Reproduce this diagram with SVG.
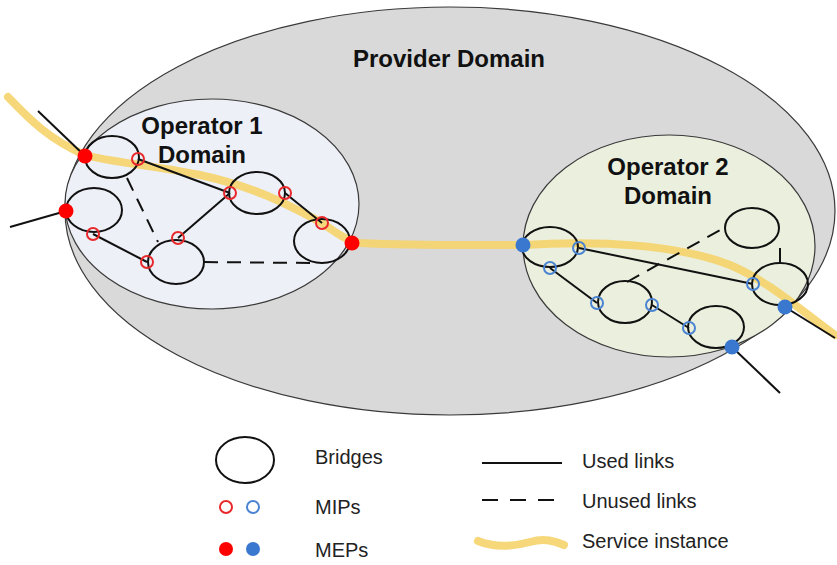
<svg xmlns="http://www.w3.org/2000/svg" width="837" height="565" viewBox="0 0 837 565">
<style>
.dom{stroke:#3a3a3a;stroke-width:1.2}
.br{fill:none;stroke:#111;stroke-width:2}
.ln{stroke:#111;stroke-width:2;fill:none}
.dl{stroke:#111;stroke-width:2;fill:none;stroke-dasharray:14 9}
.svc{fill:none;stroke:#f5d36a;stroke-width:8;stroke-linecap:round;opacity:0.9}
.mipr{fill:none;stroke:#e8282b;stroke-width:2}
.mipb{fill:none;stroke:#4a84d2;stroke-width:2}
.mepr{fill:#ff0000}
.mepb{fill:#3a78d0}
.t{font-family:"Liberation Sans",Arial,sans-serif;fill:#222}
.tb{font-family:"Liberation Sans",Arial,sans-serif;font-weight:bold;fill:#111;font-size:24px;text-anchor:middle}
.lg{font-size:20px}
</style>
<rect width="837" height="565" fill="#ffffff"/>
<g id="provider-domain">
<ellipse cx="450" cy="211" rx="385" ry="204" fill="#d9d9d9" class="dom"/>
<text class="tb" x="449" y="67">Provider Domain</text>
</g>
<g id="operator1-domain">
<ellipse cx="212" cy="204" rx="147" ry="105" fill="#edf0f6" class="dom"/>
<text class="tb" x="202" y="134">Operator 1</text>
<text class="tb" x="202" y="163">Domain</text>
</g>
<g id="operator2-domain">
<ellipse cx="669" cy="246" rx="146" ry="111" fill="#ebefdd" class="dom"/>
<text class="tb" x="668" y="175">Operator 2</text>
<text class="tb" x="668" y="204">Domain</text>
</g>
<g id="service-instance">
<path class="svc" d="M 8,97 C 30,120 50,140 85,155 C 110,162 150,165 200,175 C 250,186 280,200 322,223 C 335,232 345,240 360,243 C 420,246 480,245 523,245 C 600,240 680,245 730,265 C 770,282 800,310 835,335"/>
</g>
<g id="connectors">
<line class="ln" x1="38" y1="111" x2="85" y2="156"/>
<line class="ln" x1="10" y1="227" x2="66" y2="211"/>
<line class="ln" x1="138" y1="159" x2="230" y2="193"/>
<line class="ln" x1="285" y1="193" x2="322" y2="223"/>
<line class="ln" x1="93" y1="234" x2="147" y2="262"/>
<line class="ln" x1="178" y1="238" x2="230" y2="193"/>
<line class="dl" x1="127" y1="178" x2="158" y2="242"/>
<line class="dl" x1="204" y1="262" x2="312" y2="263"/>
<line class="ln" x1="579" y1="248" x2="753" y2="284"/>
<line class="ln" x1="550" y1="268" x2="597" y2="303"/>
<line class="ln" x1="652" y1="305" x2="689" y2="328"/>
<line class="ln" x1="785" y1="307" x2="835" y2="338"/>
<line class="ln" x1="732" y1="347" x2="780" y2="393"/>
<line class="dl" x1="627" y1="282" x2="722" y2="229"/>
<line class="dl" x1="780" y1="248" x2="780" y2="263"/>
</g>
<g id="bridges-op1">
<ellipse class="br" cx="112" cy="157" rx="27" ry="21"/>
<ellipse class="br" cx="94" cy="210" rx="28" ry="22"/>
<ellipse class="br" cx="176" cy="262" rx="28" ry="22"/>
<ellipse class="br" cx="257" cy="193" rx="28" ry="21"/>
<ellipse class="br" cx="322" cy="241" rx="28" ry="22"/>
</g>
<g id="bridges-op2">
<ellipse class="br" cx="550" cy="247" rx="28" ry="20"/>
<ellipse class="br" cx="625" cy="302" rx="27" ry="21"/>
<ellipse class="br" cx="716" cy="327" rx="28" ry="21"/>
<ellipse class="br" cx="752" cy="228" rx="27" ry="20"/>
<ellipse class="br" cx="780" cy="284" rx="28" ry="21"/>
</g>
<g id="mips-op1">
<circle class="mipr" cx="138" cy="159" r="6"/>
<circle class="mipr" cx="230" cy="193" r="6"/>
<circle class="mipr" cx="285" cy="193" r="6"/>
<circle class="mipr" cx="322" cy="223" r="6"/>
<circle class="mipr" cx="93" cy="234" r="6"/>
<circle class="mipr" cx="147" cy="262" r="6"/>
<circle class="mipr" cx="178" cy="238" r="6"/>
</g>
<g id="meps-op1">
<circle class="mepr" cx="85" cy="156" r="7.5"/>
<circle class="mepr" cx="66" cy="211" r="7.5"/>
<circle class="mepr" cx="352" cy="243" r="7.5"/>
</g>
<g id="mips-op2">
<circle class="mipb" cx="579" cy="248" r="6"/>
<circle class="mipb" cx="550" cy="268" r="6"/>
<circle class="mipb" cx="597" cy="303" r="6"/>
<circle class="mipb" cx="652" cy="305" r="6"/>
<circle class="mipb" cx="689" cy="328" r="6"/>
<circle class="mipb" cx="753" cy="284" r="6"/>
</g>
<g id="meps-op2">
<circle class="mepb" cx="523" cy="245" r="7.5"/>
<circle class="mepb" cx="785" cy="307" r="7.5"/>
<circle class="mepb" cx="732" cy="347" r="7.5"/>
</g>
<g id="legend">
<ellipse class="br" cx="245" cy="460" rx="29" ry="23"/>
<text class="t lg" x="315" y="464">Bridges</text>
<circle class="mipr" cx="226" cy="507" r="6"/>
<circle class="mipb" cx="253" cy="507" r="6"/>
<text class="t lg" x="315" y="514">MIPs</text>
<circle class="mepr" cx="226" cy="549" r="7"/>
<circle class="mepb" cx="253" cy="549" r="7"/>
<text class="t lg" x="315" y="557">MEPs</text>
<line class="ln" x1="482" y1="463" x2="562" y2="463"/>
<text class="t lg" x="582" y="468">Used links</text>
<line class="dl" x1="482" y1="500" x2="562" y2="500" style="stroke-dasharray:16 12"/>
<text class="t lg" x="582" y="508">Unused links</text>
<path class="svc" d="M 478,541 C 495,548 515,546 530,542 C 545,538 555,541 564,545"/>
<text class="t lg" x="582" y="548">Service instance</text>
</g>
</svg>
